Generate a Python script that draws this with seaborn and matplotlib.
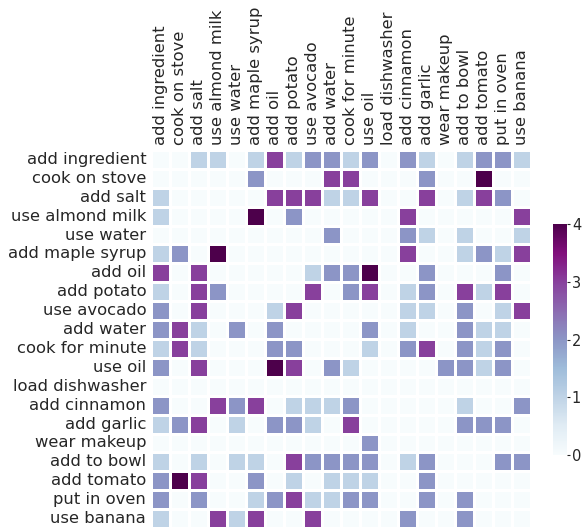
import numpy as np
import pandas as pd
import matplotlib
matplotlib.use('Agg')
import matplotlib.pyplot as plt
import seaborn as sns

# Step 1: action labels (same order for rows and columns)
actions = ['add ingredient', 'cook on stove', 'add salt', 'use almond milk', 'use water',
           'add maple syrup', 'add oil', 'add potato', 'use avocado', 'add water',
           'cook for minute', 'use oil', 'load dishwasher', 'add cinnamon', 'add garlic',
           'wear makeup', 'add to bowl', 'add tomato', 'put in oven', 'use banana']

# Step 2: transition counts, one list per row
add_ingredient  = [0, 0, 1, 1, 0, 1, 3, 1, 2, 2, 1, 2, 0, 2, 1, 0, 1, 2, 2, 1]
cook_on_stove   = [0, 0, 0, 0, 0, 2, 0, 0, 0, 3, 3, 0, 0, 0, 2, 0, 0, 4, 0, 0]
add_salt        = [1, 0, 0, 0, 0, 0, 3, 3, 3, 1, 1, 3, 0, 0, 3, 0, 1, 3, 2, 0]
use_almond_milk = [1, 0, 0, 0, 0, 4, 0, 2, 0, 0, 0, 0, 0, 3, 0, 0, 0, 0, 0, 3]
use_water       = [0, 0, 0, 0, 0, 0, 0, 0, 0, 2, 0, 0, 0, 2, 1, 0, 1, 0, 0, 1]
add_maple_syrup = [1, 2, 0, 4, 0, 0, 0, 0, 0, 0, 0, 0, 0, 3, 0, 0, 1, 2, 1, 3]
add_oil         = [3, 0, 3, 0, 0, 0, 0, 0, 1, 2, 2, 4, 0, 0, 2, 0, 0, 0, 2, 0]
add_potato      = [1, 0, 3, 2, 0, 0, 0, 0, 3, 0, 2, 3, 0, 1, 2, 0, 3, 1, 3, 0]
use_avocado     = [2, 0, 3, 0, 0, 0, 1, 3, 0, 0, 0, 0, 0, 1, 1, 0, 2, 0, 1, 3]
add_water       = [2, 3, 1, 0, 2, 0, 2, 0, 0, 0, 0, 2, 0, 1, 0, 0, 2, 1, 1, 0]
cook_for_minute = [1, 3, 1, 0, 0, 0, 2, 2, 0, 0, 0, 1, 0, 2, 3, 0, 2, 1, 2, 0]
use_oil         = [2, 0, 3, 0, 0, 0, 4, 3, 0, 2, 1, 0, 0, 0, 0, 2, 2, 1, 2, 0]
load_dishwasher = [0, 0, 0, 0, 0, 0, 0, 0, 0, 0, 0, 0, 0, 0, 0, 0, 0, 0, 0, 0]
add_cinnamon    = [2, 0, 0, 3, 2, 3, 0, 1, 1, 1, 2, 0, 0, 0, 0, 0, 1, 0, 0, 2]
add_garlic      = [1, 2, 3, 0, 1, 0, 2, 2, 1, 0, 3, 0, 0, 0, 0, 0, 2, 2, 2, 0]
wear_makeup     = [0, 0, 0, 0, 0, 0, 0, 0, 0, 0, 0, 2, 0, 0, 0, 0, 0, 0, 0, 0]
add_to_bowl     = [1, 0, 1, 0, 1, 1, 0, 3, 2, 2, 2, 2, 0, 1, 2, 0, 0, 0, 2, 2]
add_tomato      = [2, 4, 3, 0, 0, 2, 0, 1, 0, 1, 1, 1, 0, 0, 2, 0, 0, 0, 0, 0]
put_in_oven     = [2, 0, 2, 0, 0, 1, 2, 3, 1, 1, 2, 2, 0, 0, 2, 0, 2, 0, 0, 0]
use_banana      = [1, 0, 0, 3, 1, 3, 0, 0, 3, 0, 0, 0, 0, 2, 0, 0, 2, 0, 0, 0]

rows = [add_ingredient, cook_on_stove, add_salt, use_almond_milk, use_water,
        add_maple_syrup, add_oil, add_potato, use_avocado, add_water,
        cook_for_minute, use_oil, load_dishwasher, add_cinnamon, add_garlic,
        wear_makeup, add_to_bowl, add_tomato, put_in_oven, use_banana]
df = pd.DataFrame(np.array(rows), index=actions, columns=actions)

# Step 3: plot
sns.set_style('white')
fig = plt.figure(figsize=(5.82, 5.29), dpi=100)
ax = fig.add_axes([151 / 582, 1 - 528 / 529, 380 / 582, 378 / 529])
cax = fig.add_axes([553 / 582, 1 - 455 / 529, 14 / 582, 231 / 529])

sns.heatmap(df, cmap='BuPu', vmin=0, vmax=4, linewidths=0.8, linecolor='white',
            ax=ax, cbar_ax=cax, xticklabels=True, yticklabels=True)
ax.xaxis.tick_top()
ax.set_xticklabels(actions, rotation=90, fontsize=11.8, color='#262626')
ax.set_yticklabels(actions, rotation=0, fontsize=11.8, color='#262626')
ax.tick_params(length=0)

cax.set_yticks([0, 1, 2, 3, 4])
cax.tick_params(labelsize=10.5, length=2.5, pad=1, colors='#262626')

fig.savefig('out.png', dpi=100)
